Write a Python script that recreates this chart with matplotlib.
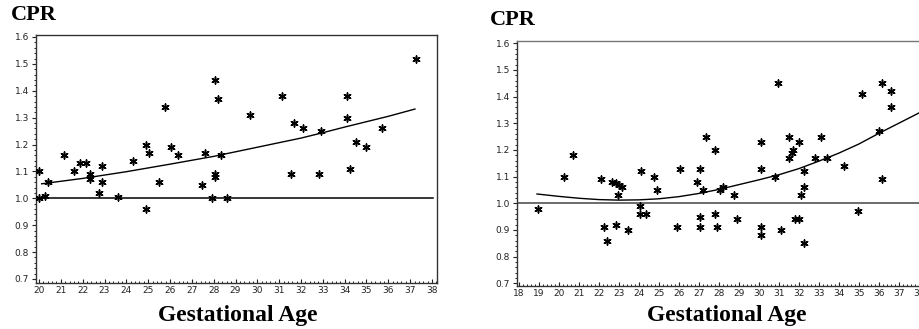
import matplotlib
matplotlib.use("Agg")
from matplotlib import pyplot as plt
from matplotlib.ticker import MultipleLocator
import numpy as np

# left panel: measured CPR by gestational age
leftAge = [20.0, 20.0, 20.27, 20.41, 21.15, 21.59, 21.86, 22.17, 22.32, 22.32,
           22.73, 22.88, 22.88, 23.6, 24.32, 24.89, 25.02, 24.89, 25.48, 25.76,
           26.05, 26.35, 27.48, 27.62, 27.92, 28.06, 28.06, 28.06, 28.21, 28.35,
           28.63, 29.65, 31.11, 31.53, 31.66, 32.09, 32.81, 32.93, 34.11, 34.11,
           34.23, 34.53, 34.96, 35.69, 37.25]
leftCpr = [1.10, 1.00, 1.01, 1.06, 1.16, 1.10, 1.13, 1.13, 1.09, 1.07,
           1.02, 1.12, 1.06, 1.005, 1.14, 1.20, 1.17, 0.96, 1.06, 1.34,
           1.19, 1.16, 1.05, 1.17, 1.00, 1.44, 1.09, 1.08, 1.37, 1.16,
           1.00, 1.31, 1.38, 1.09, 1.28, 1.26, 1.09, 1.25, 1.38, 1.30,
           1.11, 1.21, 1.19, 1.26, 1.52]
leftFitAge = [20.12, 22, 24, 25, 26, 28, 29, 30, 32, 33, 34, 36, 37.22]
leftFitCpr = [1.054, 1.074, 1.099, 1.113, 1.127, 1.156, 1.173, 1.190, 1.224, 1.244, 1.265, 1.305, 1.332]

# right panel
rightAge = [18.97, 20.24, 20.69, 22.11, 22.26, 22.41, 22.67, 22.84, 22.87, 23.0,
            23.14, 22.97, 23.43, 24.08, 24.06, 24.06, 24.34, 24.78, 24.93, 25.91,
            26.06, 26.93, 27.06, 27.06, 27.06, 27.23, 27.37, 27.80, 27.80, 27.92,
            28.08, 28.2, 28.78, 28.92, 30.09, 30.09, 30.09, 30.09, 30.82, 30.97,
            31.1, 31.52, 31.52, 31.66, 31.69, 31.8, 31.99, 31.99, 32.12, 32.27,
            32.27, 32.27, 32.82, 33.11, 33.41, 34.26, 34.99, 35.16, 36.0, 36.16,
            36.16, 36.6, 36.6]
rightCpr = [0.98, 1.10, 1.18, 1.09, 0.91, 0.86, 1.08, 0.92, 1.075, 1.067,
            1.061, 1.03, 0.90, 1.12, 0.99, 0.96, 0.96, 1.10, 1.05, 0.91,
            1.13, 1.08, 1.13, 0.95, 0.91, 1.05, 1.25, 1.20, 0.96, 0.91,
            1.05, 1.06, 1.03, 0.94, 1.23, 1.13, 0.91, 0.88, 1.10, 1.45,
            0.90, 1.25, 1.17, 1.19, 1.20, 0.94, 0.94, 1.23, 1.03, 1.12,
            1.06, 0.85, 1.17, 1.25, 1.17, 1.14, 0.97, 1.41, 1.27, 1.45,
            1.09, 1.42, 1.36]
rightFitAge = [18.9, 20, 21, 22, 23, 24, 25, 26, 27, 28, 29, 30, 31, 32, 33, 34, 35, 36, 37, 38.1]
rightFitCpr = [1.035, 1.026, 1.019, 1.014, 1.012, 1.013, 1.017, 1.025, 1.037, 1.052,
               1.070, 1.088, 1.107, 1.130, 1.158, 1.188, 1.222, 1.262, 1.300, 1.342]

asterisk = (6, 2, 0)
labelFont = {"family": "Liberation Serif", "weight": "bold"}

fig = plt.figure(figsize=(9.2, 3.29), dpi=100)
axL = fig.add_axes([0.0391, 0.1398, 0.4359, 0.7538])
axR = fig.add_axes([0.562, 0.1307, 0.443, 0.7447])


def styleAxis(ax, xmin, xmax, ymin, ymax, firstTick):
    ax.set_xlim(xmin, xmax)
    ax.set_ylim(ymin, ymax)
    ax.xaxis.set_minor_locator(MultipleLocator(0.2))
    ax.yaxis.set_minor_locator(MultipleLocator(0.02))
    ax.set_xticks(np.arange(firstTick, 39, 1))
    ax.set_yticks(np.arange(0.7, 1.61, 0.1))
    ax.set_yticklabels(["%.1f" % v for v in np.arange(0.7, 1.61, 0.1)])
    ax.tick_params(axis="both", which="major", labelsize=6.5, length=3, width=0.8,
                   colors="#222222", pad=2)
    ax.tick_params(axis="x", which="major", direction="in")
    ax.tick_params(axis="x", which="minor", direction="in", length=1.5, width=0.6)
    ax.tick_params(axis="y", which="minor", direction="out", length=1.5, width=0.6)
    for s in ax.spines.values():
        s.set_color("#333333")
        s.set_linewidth(1.0)


styleAxis(axL, 19.86, 38.23, 0.685, 1.6074, 20)
axL.axhline(1.0, xmin=0, xmax=0.99, color="black", lw=1.1)
axL.plot(leftFitAge, leftFitCpr, color="black", lw=1.0)
axL.scatter(leftAge, leftCpr, marker=asterisk, s=26, color="black", linewidths=1.1, zorder=3)

styleAxis(axR, 17.9, 38.3, 0.69, 1.6087, 18)
axR.spines["top"].set_color("#777777")
axR.axhline(1.0, color="#444444", lw=1.1)
axR.plot(rightFitAge, rightFitCpr, color="black", lw=1.0)
axR.scatter(rightAge, rightCpr, marker=asterisk, s=26, color="black", linewidths=1.1, zorder=3)

fig.text(0.012, 0.955, "CPR", fontsize=16, va="center", ha="left", **labelFont)
fig.text(0.532, 0.94, "CPR", fontsize=16, va="center", ha="left", **labelFont)
fig.text(0.258, 0.04, "Gestational Age", fontsize=17, va="center", ha="center", **labelFont)
fig.text(0.79, 0.04, "Gestational Age", fontsize=17, va="center", ha="center", **labelFont)

fig.savefig("out.png", dpi=100)
